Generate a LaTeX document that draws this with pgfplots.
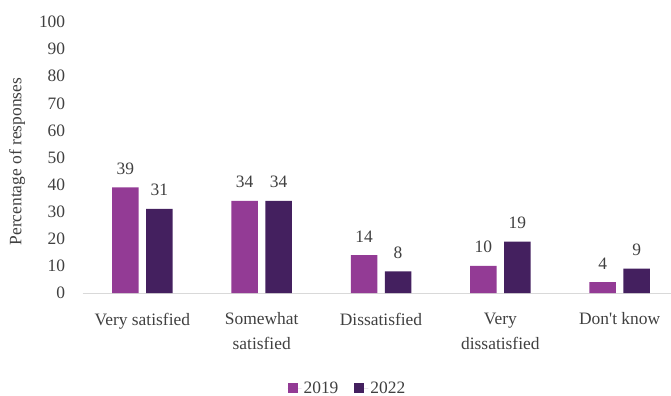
\documentclass[border=0pt]{standalone}
\usepackage{pgfplots}
\pgfplotsset{compat=1.18}
\usepackage{fontspec}
\setmainfont{Liberation Serif}
\definecolor{c2019}{HTML}{933B95}
\definecolor{c2022}{HTML}{44205F}
\definecolor{txt}{HTML}{404040}
\definecolor{axl}{HTML}{D9D9D9}
\newcommand{\ff}{\fontsize{17.5}{25}\selectfont}
\begin{document}
\begin{tikzpicture}
\path[use as bounding box] (-82.7bp,-103bp) rectangle (588.3bp,293bp);
\begin{axis}[
  at={(0,0)}, anchor=south west,
  scale only axis, width=588.3bp, height=271bp,
  ybar=7.5bp, bar width=26.5bp,
  xmin=-0.5, xmax=4.43, ymin=0, ymax=100,
  ytick={0,10,...,100},
  xtick={0,1,2,3,4},
  xticklabels={Very satisfied, Somewhat\\satisfied, Dissatisfied, Very\\dissatisfied, Don\textquotesingle t know},
  axis x line*=bottom, axis y line*=left,
  x axis line style={draw=axl, line width=0.8bp, -},
  y axis line style={draw=none},
  ytick style={draw=none}, xtick style={draw=none},
  /pgf/number format/assume math mode=true,
  ticklabel style={font=\ff, text=txt},
  yticklabel style={xshift=-14bp},
  xticklabel style={align=center, anchor=north, yshift=-12bp},
  ylabel={Percentage of responses},
  every axis y label/.style={at={(rel axis cs:0,0.485)}, xshift=-65.7bp, rotate=90, anchor=center, font=\ff, text=txt},
  nodes near coords,
  every node near coord/.append style={font=\ff, text=txt, yshift=9.5bp},
  legend columns=2,
  legend style={draw=none, fill=none, font=\ff, text=txt, at={(rel axis cs:0.450,0)}, yshift=-95bp, anchor=center, /tikz/every even column/.append style={column sep=14bp}},
  legend image code/.code={\fill[#1,draw=none] (0bp,-5bp) rectangle (10bp,5bp); \path (0bp,0bp) -- (14bp,0bp);},
]
\addplot[fill=c2019, draw=none] coordinates {(0,39) (1,34) (2,14) (3,10) (4,4)};
\addplot[fill=c2022, draw=none] coordinates {(0,31) (1,34) (2,8) (3,19) (4,9)};
\legend{2019,2022}
\end{axis}
\end{tikzpicture}
\end{document}
